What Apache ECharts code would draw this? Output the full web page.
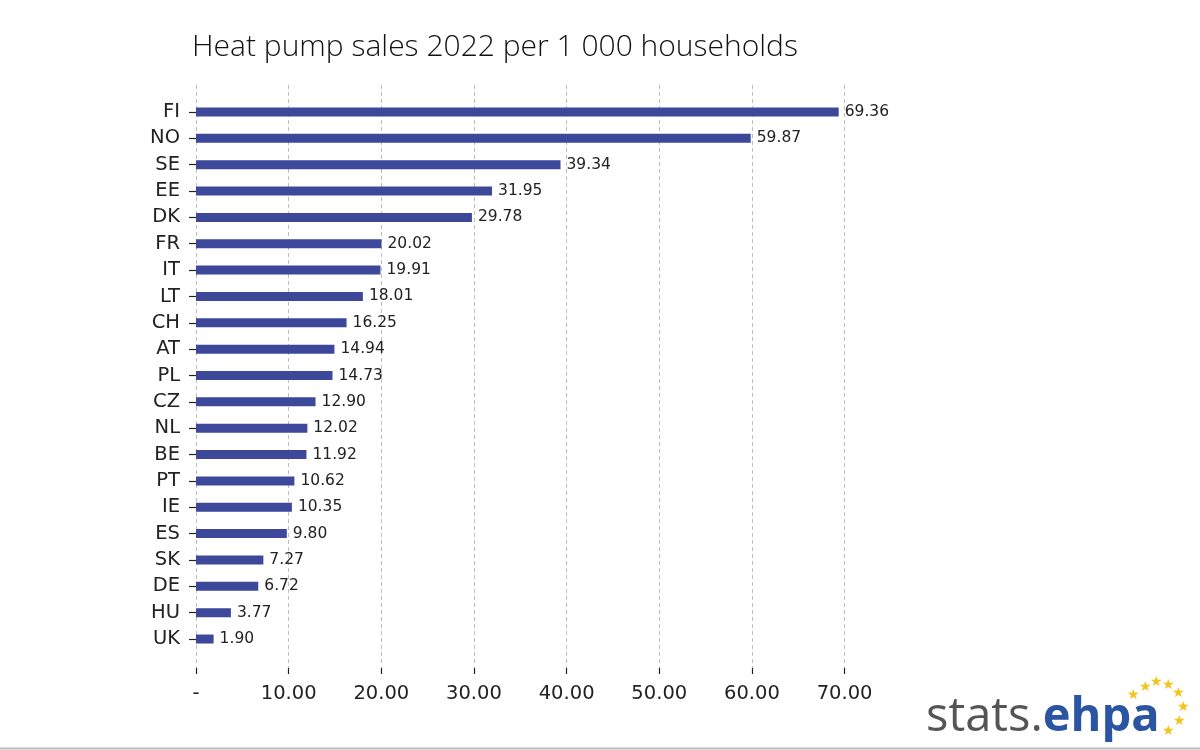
<!DOCTYPE html>
<html>
<head>
<meta charset="utf-8">
<script src="https://cdn.jsdelivr.net/npm/echarts@6/dist/echarts.min.js"></script>
<style>
html,body{margin:0;padding:0;background:#fff;}
#c{width:1200px;height:750px;}
</style>
</head>
<body>
<div id="c"></div>
<script>
const countries = ["FI","NO","SE","EE","DK","FR","IT","LT","CH","AT","PL","CZ","NL","BE","PT","IE","ES","SK","DE","HU","UK"];
const salesPer1000 = [69.36,59.87,39.34,31.95,29.78,20.02,19.91,18.01,16.25,14.94,14.73,12.90,12.02,11.92,10.62,10.35,9.80,7.27,6.72,3.77,1.90];
const xTicks = [0,10,20,30,40,50,60,70];
const titleText = "Heat pump sales 2022 per 1 000 households";

const chart = echarts.init(document.getElementById('c'), null, {renderer:'canvas'});
const FONT = 'DejaVu Sans';
const starPos = [[1133,695],[1145,687],[1156,682],[1168,685],[1178,693],[1183,707],[1179,721],[1168,731]];

chart.setOption({
  backgroundColor:'#fff',
  animation:false,
  title:{
    text:titleText, left:187, top:27,
    textStyle:{fontFamily:'Open Sans', fontWeight:300, fontSize:30, color:'#111'}
  },
  grid:[
    {left:196, right:355.4, top:98.8, bottom:97.8, containLabel:false},
    {left:196, right:355.4, top:85, bottom:82, containLabel:false}
  ],
  xAxis:[
    {gridIndex:0, type:'value', min:xTicks[0], max:xTicks[xTicks.length-1], interval:10,
     axisLine:{show:false}, axisTick:{show:false}, axisLabel:{show:false}, splitLine:{show:false}},
    {gridIndex:1, type:'value', min:xTicks[0], max:xTicks[xTicks.length-1], interval:10, offset:4,
     axisLine:{show:false},
     axisTick:{show:true, length:6, lineStyle:{color:'#222', width:1.2}},
     axisLabel:{margin:12, fontFamily:FONT, fontSize:19.5, color:'#222',
       formatter:v=> v===0 ? '-' : v.toFixed(2)},
     splitLine:{show:true, lineStyle:{color:'#bdbdbd', width:1, type:[4,3]}}}
  ],
  yAxis:[
    {gridIndex:0, type:'category', data:countries, inverse:true,
     axisLine:{show:false},
     axisTick:{show:true, alignWithLabel:true, length:7, lineStyle:{color:'#222', width:1.2}},
     axisLabel:{margin:16, fontFamily:FONT, fontSize:19.5, color:'#222'}},
    {gridIndex:1, type:'value', min:0, max:1, show:false}
  ],
  series:[{
    type:'bar', xAxisIndex:0, yAxisIndex:0,
    data:salesPer1000, barWidth:9,
    itemStyle:{color:'#3d489b'},
    label:{show:true, position:'right', distance:6, fontFamily:FONT, fontSize:15.5, color:'#222',
      formatter:p=>p.value.toFixed(2)}
  }],
  graphic:[
    {type:'text', left:926, top:694, style:{
      rich:{a:{fontFamily:'Open Sans', fontSize:47, fill:'#555'}, b:{fontFamily:'Open Sans', fontWeight:'bold', fontSize:47, fill:'#2b55a3'}},
      text:'{a|stats.}{b|ehpa}'}},
    ...starPos.map(p=>({type:'text', x:p[0], y:p[1], style:{text:'★', fontSize:14, fill:'#f2c518', align:'center', verticalAlign:'middle'}})),
    {type:'line', shape:{x1:0,y1:748.5,x2:1200,y2:748.5}, style:{stroke:'#bdbdbd', lineWidth:2}}
  ]
});
</script>
</body>
</html>
